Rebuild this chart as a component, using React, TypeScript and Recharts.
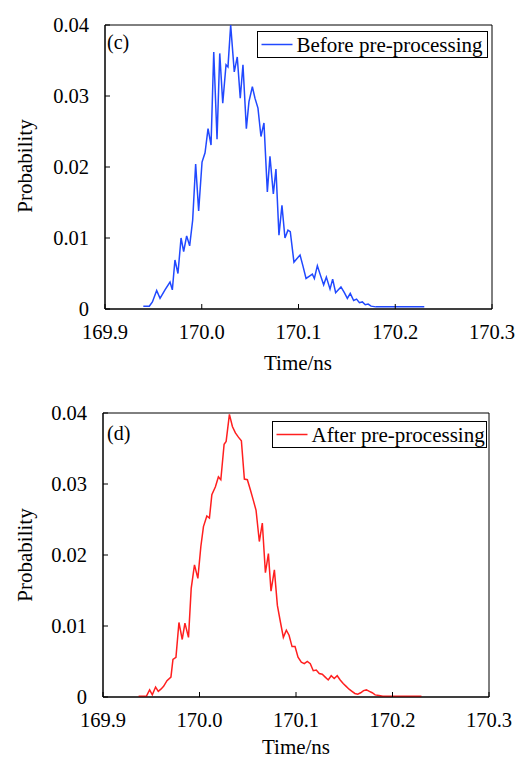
import React from "react";
import { LineChart, Line, XAxis, YAxis, ReferenceArea } from "recharts";

// time axis (ns) and probability values
const beforeTimes = [
  169.9396, 169.9458, 169.949, 169.9534, 169.9569, 169.962, 169.9672, 169.9696, 169.9723, 169.9754,
  169.9786, 169.9813, 169.9844, 169.9875, 169.9906, 169.9937, 169.9968, 170.0003, 170.0034, 170.0065,
  170.0096, 170.0124, 170.0158, 170.0186, 170.0217, 170.0251, 170.0271, 170.0299, 170.0336, 170.0367,
  170.0398, 170.0426, 170.0461, 170.0488, 170.0523, 170.055, 170.0581, 170.0612, 170.0643, 170.0678,
  170.0705, 170.074, 170.0767, 170.0798, 170.0829, 170.086, 170.0891, 170.0915, 170.0953, 170.0985,
  170.1016, 170.1047, 170.1078, 170.111, 170.1143, 170.1164, 170.1195, 170.1228, 170.126, 170.1288,
  170.1326, 170.1353, 170.1384, 170.1412, 170.1439, 170.1474, 170.1505, 170.1535, 170.157, 170.16,
  170.163, 170.166, 170.169, 170.172, 170.175, 170.18, 170.2, 170.23,
];
const beforeProb = [
  0.0004, 0.0004, 0.001, 0.0026, 0.0015, 0.0027, 0.0038, 0.0027, 0.0069, 0.005,
  0.01, 0.0081, 0.0103, 0.0089, 0.0125, 0.0204, 0.0138, 0.0207, 0.022, 0.0254,
  0.0231, 0.0362, 0.0239, 0.036, 0.029, 0.0344, 0.0341, 0.04, 0.0334, 0.0355,
  0.0297, 0.0344, 0.0254, 0.0292, 0.0313, 0.0297, 0.0283, 0.0243, 0.0262, 0.0165,
  0.0215, 0.0162, 0.0197, 0.0104, 0.0146, 0.01, 0.0111, 0.0109, 0.0066, 0.0071,
  0.0076, 0.006, 0.0043, 0.0046, 0.0049, 0.0043, 0.0061, 0.0047, 0.0034, 0.0045,
  0.0028, 0.0042, 0.0023, 0.0027, 0.0031, 0.0023, 0.0015, 0.0022, 0.0012, 0.0014,
  0.0009, 0.001, 0.0006, 0.0007, 0.0004, 0.0003, 0.0003, 0.0003,
];

const afterTimes = [
  169.9369, 169.9449, 169.9483, 169.9511, 169.9545, 169.9573, 169.96, 169.9628, 169.9663, 169.9704,
  169.9725, 169.9756, 169.9787, 169.9821, 169.9849, 169.9886, 169.9914, 169.9948, 169.9983, 170.0014,
  170.0041, 170.0076, 170.0103, 170.0128, 170.0165, 170.0196, 170.0221, 170.0255, 170.0276, 170.031,
  170.0341, 170.0372, 170.0403, 170.0434, 170.0465, 170.0496, 170.0527, 170.0558, 170.0586, 170.062,
  170.0651, 170.0683, 170.0714, 170.0741, 170.0776, 170.0807, 170.0838, 170.0869, 170.09, 170.0928,
  170.0959, 170.099, 170.1021, 170.1055, 170.1086, 170.1117, 170.1148, 170.1179, 170.121, 170.1241,
  170.1272, 170.1303, 170.1334, 170.1365, 170.1396, 170.1427, 170.1458, 170.1489, 170.152, 170.155,
  170.158, 170.161, 170.164, 170.167, 170.17, 170.173, 170.176, 170.179, 170.182, 170.186,
  170.19, 170.2, 170.23,
];
const afterProb = [
  0.0001, 0.0001, 0.001, 0.0003, 0.0014, 0.0008, 0.0011, 0.0015, 0.0023, 0.0028,
  0.0053, 0.0056, 0.0105, 0.0081, 0.0104, 0.0084, 0.0153, 0.0186, 0.0167, 0.0212,
  0.024, 0.0255, 0.0252, 0.0285, 0.0296, 0.031, 0.0306, 0.0356, 0.036, 0.0398,
  0.0381, 0.0372, 0.0366, 0.0361, 0.0307, 0.0306, 0.0292, 0.0277, 0.0263, 0.0219,
  0.0245, 0.0175, 0.0202, 0.0149, 0.0179, 0.0129, 0.0106, 0.0084, 0.0094, 0.0087,
  0.0071, 0.0071, 0.0056, 0.0049, 0.0047, 0.005, 0.0047, 0.0037, 0.0038, 0.0033,
  0.0032, 0.0028, 0.0024, 0.003, 0.0026, 0.003, 0.0024, 0.0019, 0.0015, 0.0011,
  0.0008, 0.0005, 0.0004, 0.0006, 0.0009, 0.001, 0.0008, 0.0006, 0.0003, 0.0002,
  0.0001, 0.0001, 0.0001,
];

const timeTicks = [169.9, 170.0, 170.1, 170.2, 170.3];
const topTicks = [169.95, 170.0, 170.05, 170.1, 170.15, 170.2, 170.25];
const probTicks = [0, 0.01, 0.02, 0.03, 0.04];

const serif = { fontFamily: "Liberation Serif, DejaVu Serif, serif" };

const toRows = (ts: number[], ps: number[]) => ts.map((t, i) => ({ t, p: ps[i] }));

const BottomTick = (props: any) => {
  const { x, y, payload } = props;
  return (
    <g>
      <line x1={x} y1={y} x2={x} y2={y - 5} stroke="#000" strokeWidth={1} />
      <text x={x} y={y + 30} textAnchor="middle" style={serif} fontSize={20.5} fill="#000">
        {payload.value.toFixed(1)}
      </text>
    </g>
  );
};

const TopTick = (props: any) => {
  const { x, y } = props;
  return <line x1={x} y1={y} x2={x} y2={y + 5} stroke="#000" strokeWidth={1} />;
};

const LeftTick = (props: any) => {
  const { x, y, payload } = props;
  const v = payload.value;
  return (
    <g>
      <line x1={x} y1={y} x2={x + 5} y2={y} stroke="#000" strokeWidth={1} />
      <text x={x - 16} y={y + 7} textAnchor="end" style={serif} fontSize={20.5} fill="#000">
        {v === 0 ? "0" : v.toFixed(2)}
      </text>
    </g>
  );
};

function Panel({ data, color, left, right }: { data: any[]; color: string; left: number; right: number }) {
  return (
    <LineChart width={516} height={380} data={data} margin={{ top: 25, right, left: 0, bottom: 0 }}>
      <XAxis
        dataKey="t"
        type="number"
        domain={[169.9, 170.3]}
        ticks={timeTicks}
        interval={0}
        allowDataOverflow
        height={71}
        tickSize={0}
        tickMargin={0}
        tickLine={false}
        axisLine={{ stroke: "#000" }}
        tick={<BottomTick />}
      />
      <XAxis
        xAxisId="top"
        orientation="top"
        dataKey="t"
        type="number"
        domain={[169.9, 170.3]}
        ticks={topTicks}
        interval={0}
        height={0}
        tickSize={0}
        tickMargin={0}
        tickLine={false}
        axisLine={{ stroke: "#000" }}
        tick={<TopTick />}
      />
      <YAxis
        type="number"
        domain={[0, 0.04]}
        ticks={probTicks}
        interval={0}
        allowDataOverflow
        width={left}
        tickSize={0}
        tickMargin={0}
        tickLine={false}
        axisLine={{ stroke: "#000" }}
        tick={<LeftTick />}
      />
      <ReferenceArea x1={169.9} x2={170.3} y1={0} y2={0.04} fill="none" stroke="#000" strokeWidth={1} ifOverflow="visible" />
      <Line dataKey="p" stroke={color} strokeWidth={1.5} dot={false} isAnimationActive={false} />
    </LineChart>
  );
}

function Legend({ x, y, w, color, label }: { x: number; y: number; w: number; color: string; label: string }) {
  return (
    <g>
      <rect x={x} y={y} width={w} height={26} fill="#fff" stroke="#000" strokeWidth={1} />
      <line x1={x + 4} y1={y + 13} x2={x + 35} y2={y + 13} stroke={color} strokeWidth={1.5} />
      <text x={x + 39} y={y + 20} style={serif} fontSize={21} fill="#000">
        {label}
      </text>
    </g>
  );
}

export default function App() {
  return (
    <div style={{ position: "absolute", left: 0, top: 0, width: 516, height: 760, background: "#fff" }}>
      <div style={{ position: "absolute", left: 0, top: 0 }}>
        <Panel data={toRows(beforeTimes, beforeProb)} color="#2149ff" left={105} right={24} />
      </div>
      <div style={{ position: "absolute", left: 0, top: 388 }}>
        <Panel data={toRows(afterTimes, afterProb)} color="#ff1f1f" left={103} right={27} />
      </div>
      <svg width={516} height={760} style={{ position: "absolute", left: 0, top: 0, pointerEvents: "none" }}>
        <text x={107} y={49} style={serif} fontSize={20} fill="#000">(c)</text>
        <text x={107} y={440} style={serif} fontSize={20} fill="#000">(d)</text>
        <Legend x={257.5} y={31.5} w={230} color="#2149ff" label="Before pre-processing" />
        <Legend x={272.5} y={421.5} w={214} color="#ff1f1f" label="After pre-processing" />
        <text x={298} y={370} textAnchor="middle" style={serif} fontSize={21} fill="#000">Time/ns</text>
        <text x={296} y={754} textAnchor="middle" style={serif} fontSize={21} fill="#000">Time/ns</text>
        <text transform="translate(32 166) rotate(-90)" textAnchor="middle" style={serif} fontSize={21} fill="#000">Probability</text>
        <text transform="translate(32 555) rotate(-90)" textAnchor="middle" style={serif} fontSize={21} fill="#000">Probability</text>
      </svg>
    </div>
  );
}
